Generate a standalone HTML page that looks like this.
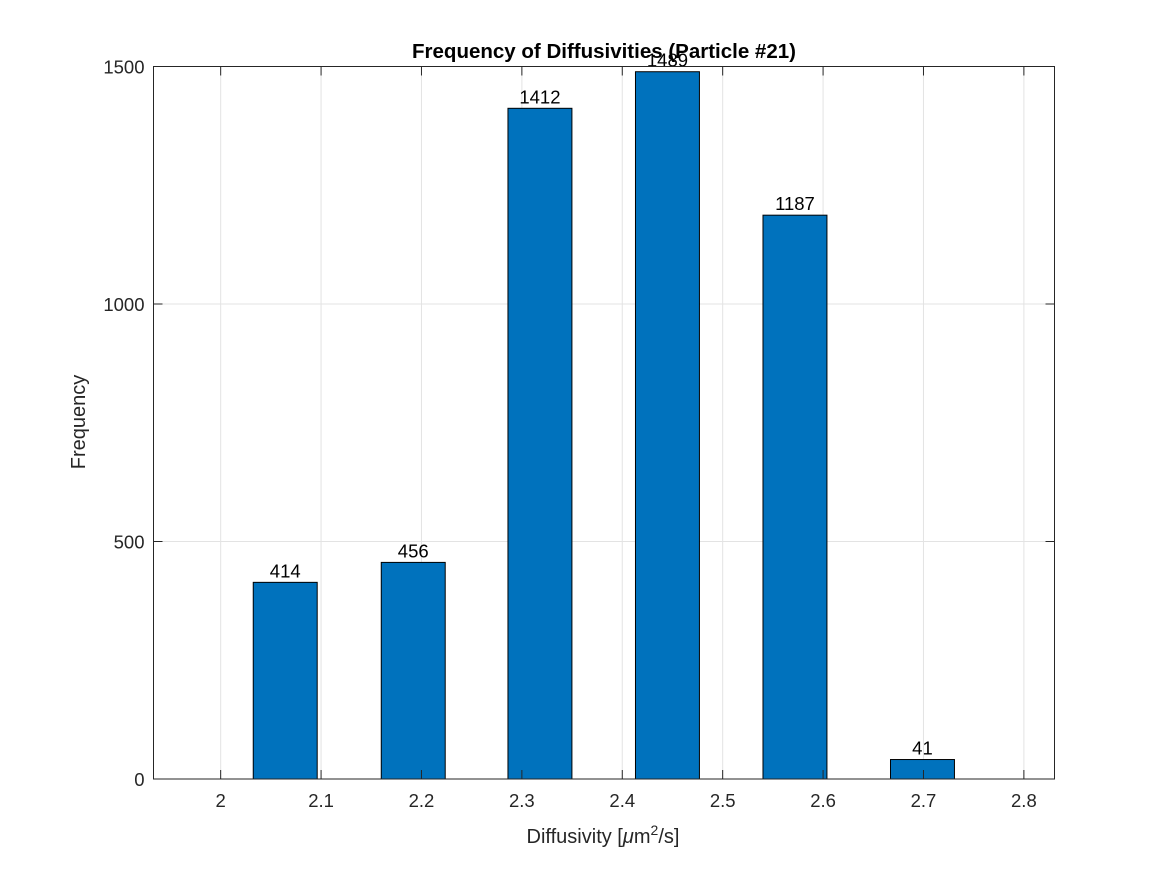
<!DOCTYPE html>
<html><head><meta charset="utf-8"><style>
body{margin:0;background:#fff;}
svg{display:block;font-family:"Liberation Sans",Arial,sans-serif;}
</style></head><body>
<svg id="chart" width="1167" height="875" viewBox="0 0 1167 875">
<rect x="0" y="0" width="1167" height="875" fill="#fff"/>
<g id="grid"></g>
<g id="bars"></g>
<g id="labels"></g>
<rect x="153.5" y="66.5" width="901" height="712.5" fill="none" stroke="#262626" stroke-width="1"/>
<g id="ticks"></g>
<text x="604" y="58" text-anchor="middle" font-size="20.5" font-weight="bold" fill="#000">Frequency of Diffusivities (Particle #21)</text>
<text x="603" y="843" text-anchor="middle" font-size="20" fill="#262626">Diffusivity [<tspan font-style="italic">μ</tspan>m<tspan baseline-shift="super" font-size="14">2</tspan>/s]</text>
<text transform="translate(85,422) rotate(-90)" text-anchor="middle" font-size="20" fill="#262626">Frequency</text>
</svg>
<script>
const binCenters=[2.0643,2.1918,2.318,2.445,2.572,2.699];
const counts=[414,456,1412,1489,1187,41];
const xTicks=[2,2.1,2.2,2.3,2.4,2.5,2.6,2.7,2.8];
const xTickLabels=["2","2.1","2.2","2.3","2.4","2.5","2.6","2.7","2.8"];
const yTicks=[0,500,1000,1500];
const yTickLabels=["0","500","1000","1500"];
const barWidth=0.0637;

const L=153.5,R=1054.5,T=66.5,B=779;
const X0=1.9331,X1=2.8305,Y0=0,Y1=1500;
const sx=v=>L+(v-X0)/(X1-X0)*(R-L);
const sy=v=>B-(v-Y0)/(Y1-Y0)*(B-T);
const NS="http://www.w3.org/2000/svg";
function mk(tag,attrs,parent){const e=document.createElementNS(NS,tag);for(const k in attrs)e.setAttribute(k,attrs[k]);parent.appendChild(e);return e;}
const grid=document.getElementById('grid'),bars=document.getElementById('bars'),labels=document.getElementById('labels'),ticks=document.getElementById('ticks');
xTicks.forEach((v,i)=>{
  const x=sx(v);
  const g=mk('line',{x1:x,x2:x,y1:T,y2:B,stroke:'#e3e3e3','stroke-width':1},grid);
  
  
  mk('line',{x1:x,x2:x,y1:B,y2:B-9,stroke:'#262626'},ticks);
  mk('line',{x1:x,x2:x,y1:T,y2:T+9,stroke:'#262626'},ticks);
  const t=mk('text',{x:x,y:B+28,'text-anchor':'middle','font-size':18.5,fill:'#262626'},ticks);
  t.textContent=xTickLabels[i];
  
  
});
yTicks.forEach((v,i)=>{
  const y=sy(v);
  const g=mk('line',{x1:L,x2:R,y1:y,y2:y,stroke:'#e3e3e3','stroke-width':1},grid);
  
  
  mk('line',{x1:L,x2:L+9,y1:y,y2:y,stroke:'#262626'},ticks);
  mk('line',{x1:R,x2:R-9,y1:y,y2:y,stroke:'#262626'},ticks);
  const t=mk('text',{x:L-9,y:y+7,'text-anchor':'end','font-size':18.5,fill:'#262626'},ticks);
  t.textContent=yTickLabels[i];
  
  
});
binCenters.forEach((c,i)=>{
  const x0=sx(c-barWidth/2),x1=sx(c+barWidth/2),y=sy(counts[i]);
  const r=mk('rect',{x:x0,y:y,width:x1-x0,height:B-y,fill:'#0072bd',stroke:'#000','stroke-width':1},bars);
  
  
  const t=mk('text',{x:(x0+x1)/2,y:y-5,'text-anchor':'middle','font-size':18.5,fill:'#000'},labels);
  t.textContent=String(counts[i]);
  
  
});
</script>
</body></html>
